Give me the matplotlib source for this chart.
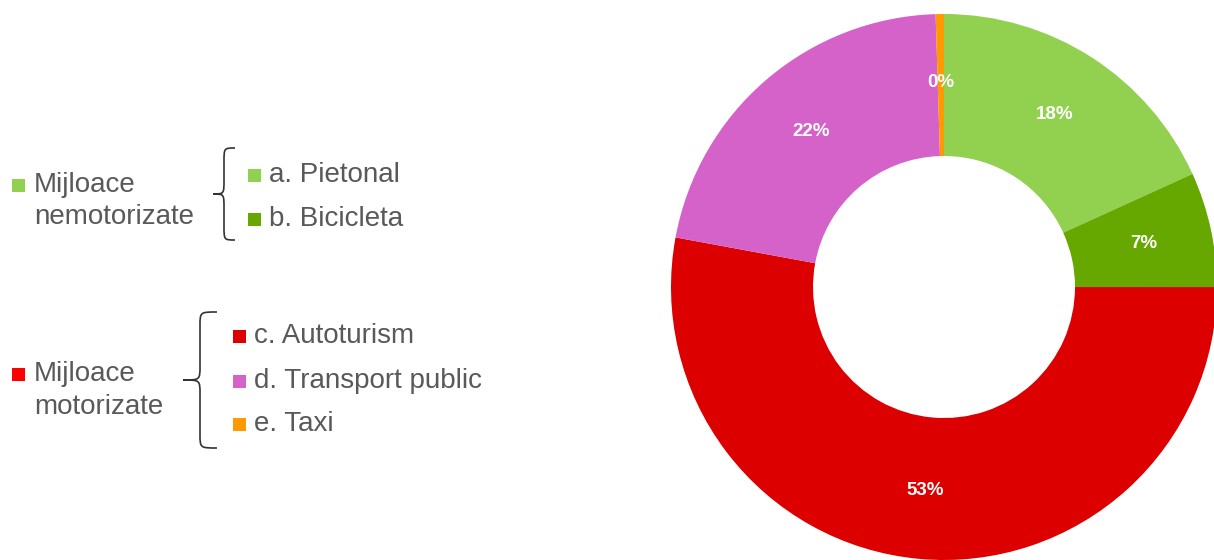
import matplotlib.pyplot as plt
from matplotlib.path import Path
from matplotlib.patches import PathPatch, Rectangle

# date
categorii = ['a. Pietonal', 'b. Bicicleta', 'c. Autoturism', 'd. Transport public', 'e. Taxi']
valori = [18.2, 6.8, 52.9, 21.6, 0.49]
culori = ['#92D050', '#66A800', '#DD0000', '#D462C8', '#FF9900']
grupe = [['Mijloace', 'nemotorizate'], ['Mijloace', 'motorizate']]
culori_grupe = ['#92D050', '#FF0000']

H = 560
gri = '#595959'


def y(v):
    # coordonate de imagine -> coordonate axe
    return H - v


def acolada(ax, x_varf, x_capat, y_sus, y_jos, h=14):
    """Acolada deschisa spre dreapta."""
    xm = (x_varf + x_capat) / 2
    ym = (y_sus + y_jos) / 2
    pts = [(x_capat, y_sus), (xm, y_sus), (xm, y_sus), (xm, y_sus + h),
           (xm, ym - h),
           (xm, ym), (xm, ym), (x_varf, ym),
           (xm, ym), (xm, ym), (xm, ym + h),
           (xm, y_jos - h),
           (xm, y_jos), (xm, y_jos), (x_capat, y_jos)]
    cod = [Path.MOVETO, Path.CURVE4, Path.CURVE4, Path.CURVE4,
           Path.LINETO,
           Path.CURVE4, Path.CURVE4, Path.CURVE4,
           Path.CURVE4, Path.CURVE4, Path.CURVE4,
           Path.LINETO,
           Path.CURVE4, Path.CURVE4, Path.CURVE4]
    pts = [(px, y(py)) for px, py in pts]
    ax.add_patch(PathPatch(Path(pts, cod), facecolor='none', edgecolor='#333333', lw=1.2))


def patrat(ax, x, yc, c, s=13):
    ax.add_patch(Rectangle((x, y(yc) - s / 2), s, s, facecolor=c, edgecolor='none'))


fig = plt.figure(figsize=(12.14, 5.6), dpi=100)
ax = fig.add_axes([0, 0, 1, 1])

cx, cy, r, r_int = 944, 287, 273, 131
wedges, _, pct = ax.pie(valori, colors=culori, startangle=90, counterclock=False,
                        center=(cx, y(cy)), radius=r,
                        wedgeprops=dict(width=r - r_int, linewidth=0),
                        autopct='%.0f%%', pctdistance=(r + r_int) / 2 / r + 0.01,
                        textprops=dict(color='white', fontsize=13.5, fontweight='bold',
                                       family=['Liberation Sans Narrow', 'Liberation Sans']))

ax.set_xlim(0, 1214)
ax.set_ylim(0, H)
ax.set_aspect('auto')
ax.axis('off')

font = dict(fontsize=20, color=gri, family='Liberation Sans', va='center', ha='left')

# grupa 1: nemotorizate
patrat(ax, 12, 185, culori_grupe[0])
ax.text(34, y(185), grupe[0][0], **font)
ax.text(34, y(217), grupe[0][1], **font)
acolada(ax, 213, 235, 148, 240)
for nume, c, yc in zip(categorii[:2], culori[:2], [175, 219]):
    patrat(ax, 248, yc, c)
    ax.text(269, y(yc), nume, **font)

# grupa 2: motorizate
patrat(ax, 12, 374, culori_grupe[1])
ax.text(34, y(374), grupe[1][0], **font)
ax.text(34, y(407), grupe[1][1], **font)
acolada(ax, 183, 217, 312, 448)
for nume, c, yc in zip(categorii[2:], culori[2:], [336, 381, 424]):
    patrat(ax, 233, yc, c)
    ax.text(254, y(yc), nume, **font)

fig.savefig('out.png', dpi=100)
